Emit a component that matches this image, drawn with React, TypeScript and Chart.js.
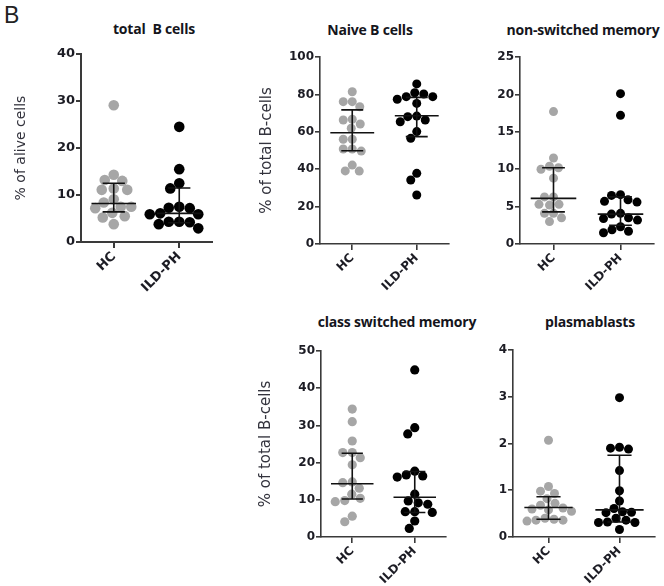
import React, { useEffect, useRef } from "react";
import { Chart, registerables } from "chart.js";

Chart.register(...registerables);

const categories = ["HC", "ILD-PH"];

// total B cells (% of alive cells)
const totalBHC = [29.1, 14.3, 13.2, 13.0, 11.4, 11.1, 11.1, 9.1, 8.4, 7.5, 7.5, 7.2, 6.2, 5.5, 5.2, 3.8];
const totalBILD = [24.5, 15.5, 12.5, 11.4, 7.5, 7.3, 7.2, 6.1, 5.9, 5.9, 4.3, 4.3, 4.2, 3.8, 2.9];
const totalBMedian = [8.2, 6.1];
const totalBQ1 = [6.4, 4.1];
const totalBQ3 = [12.5, 11.5];

// Naive B cells (% of total B-cells)
const naiveHC = [81.4, 76.1, 76.1, 73.4, 66.7, 66.3, 64.2, 61.9, 56.0, 56.0, 50.8, 50.8, 49.7, 42.2, 39.1, 39.0];
const naiveILD = [85.6, 80.9, 80.2, 78.8, 78.8, 77.4, 75.2, 68.4, 68.1, 66.3, 65.4, 60.1, 56.5, 37.8, 34.2, 26.2];
const naiveMedian = [59.5, 68.6];
const naiveQ1 = [49.9, 57.4];
const naiveQ3 = [71.7, 78.4];

// non-switched memory
const nsmHC = [17.7, 11.5, 10.4, 10.2, 10.0, 8.8, 6.3, 6.3, 5.3, 5.3, 5.2, 4.1, 4.1, 3.5, 3.0];
const nsmILD = [20.1, 17.2, 6.6, 6.5, 5.9, 5.7, 5.6, 4.1, 4.0, 3.5, 3.4, 3.2, 2.3, 1.9, 1.7, 1.5];
const nsmMedian = [6.1, 4.0];
const nsmQ1 = [4.3, 2.5];
const nsmQ3 = [10.2, 6.3];

// class switched memory (% of total B-cells)
const csmHC = [34.4, 31.0, 25.8, 22.7, 22.7, 21.3, 19.4, 14.8, 14.6, 13.1, 11.5, 10.4, 9.8, 9.5, 5.6, 4.1];
const csmILD = [44.9, 29.4, 27.7, 17.7, 16.7, 16.4, 16.1, 11.5, 9.7, 9.2, 8.8, 6.8, 6.8, 6.6, 4.3, 2.3];
const csmMedian = [14.3, 10.7];
const csmQ1 = [10.2, 6.6];
const csmQ3 = [22.5, 17.6];

// plasmablasts
const pbHC = [2.07, 1.08, 0.98, 0.93, 0.82, 0.72, 0.68, 0.62, 0.6, 0.58, 0.55, 0.4, 0.38, 0.36, 0.36, 0.34];
const pbILD = [2.98, 1.92, 1.9, 1.88, 1.42, 0.99, 0.77, 0.61, 0.54, 0.53, 0.52, 0.4, 0.36, 0.32, 0.31, 0.31, 0.16];
const pbMedian = [0.63, 0.58];
const pbQ1 = [0.38, 0.32];
const pbQ3 = [0.86, 1.75];

const yMax = [40, 100, 25, 50, 4];
const yStep = [10, 20, 5, 10, 1];

type Panel = {
  title: string;
  yTitle: string;
  groups: number[][];
  median: number[];
  q1: number[];
  q3: number[];
  yMax: number;
  yStep: number;
  plotL: number; plotR: number; plotT: number; plotB: number;
  canvasL: number; canvasT: number;
  xH: number;
  titleX: number; titleY: number;
  yTitleX: number;
  yTitleSize: number;
  tickSize: number;
  radius: number;
  gap: number;
  axisW: number;
};

const panels: Panel[] = [
  {
    title: "total  B cells", yTitle: "% of alive cells",
    groups: [totalBHC, totalBILD], median: totalBMedian, q1: totalBQ1, q3: totalBQ3,
    yMax: yMax[0], yStep: yStep[0],
    plotL: 81, plotR: 212, plotT: 54, plotB: 242, canvasL: 0, canvasT: 38, xH: 52,
    titleX: 154, titleY: 20, yTitleX: 21, yTitleSize: 14, tickSize: 13, radius: 5.3, gap: 10.2, axisW: 2,
  },
  {
    title: "Naive B cells", yTitle: "% of total B-cells",
    groups: [naiveHC, naiveILD], median: naiveMedian, q1: naiveQ1, q3: naiveQ3,
    yMax: yMax[1], yStep: yStep[1],
    plotL: 320, plotR: 449, plotT: 57, plotB: 244, canvasL: 238, canvasT: 44, xH: 50,
    titleX: 370, titleY: 21, yTitleX: 267, yTitleSize: 15, tickSize: 12, radius: 4.5, gap: 9, axisW: 1.6,
  },
  {
    title: "non-switched memory", yTitle: "",
    groups: [nsmHC, nsmILD], median: nsmMedian, q1: nsmQ1, q3: nsmQ3,
    yMax: yMax[2], yStep: yStep[2],
    plotL: 520, plotR: 654, plotT: 57, plotB: 244, canvasL: 468, canvasT: 44, xH: 50,
    titleX: 583, titleY: 21, yTitleX: 0, yTitleSize: 15, tickSize: 12, radius: 4.5, gap: 9, axisW: 1.6,
  },
  {
    title: "class switched memory", yTitle: "% of total B-cells",
    groups: [csmHC, csmILD], median: csmMedian, q1: csmQ1, q3: csmQ3,
    yMax: yMax[3], yStep: yStep[3],
    plotL: 321, plotR: 446, plotT: 351, plotB: 537, canvasL: 238, canvasT: 338, xH: 49,
    titleX: 397, titleY: 313, yTitleX: 266, yTitleSize: 15, tickSize: 12, radius: 4.6, gap: 9.2, axisW: 1.6,
  },
  {
    title: "plasmablasts", yTitle: "",
    groups: [pbHC, pbILD], median: pbMedian, q1: pbQ1, q3: pbQ3,
    yMax: yMax[4], yStep: yStep[4],
    plotL: 513, plotR: 655, plotT: 350, plotB: 537, canvasL: 468, canvasT: 338, xH: 49,
    titleX: 590, titleY: 313, yTitleX: 0, yTitleSize: 15, tickSize: 12, radius: 4.5, gap: 9, axisW: 1.6,
  },
];

const GROUP_COLORS = ["#a6a6a6", "#000000"];
const MEDIAN_HALF = 0.34;
const CAP_HALF = 0.17;
const AXIS_COLOR = "#3a3a3a";
const TEXT_COLOR = "#1c1c24";

function swarm(pys: number[], minDist: number): number[] {
  const order = pys.map((_, i) => i).sort((a, b) => pys[a] - pys[b]);
  const placed: { x: number; y: number }[] = [];
  const out = new Array(pys.length).fill(0);
  for (const i of order) {
    const y = pys[i];
    let chosen = 0;
    for (let k = 0; k < 400; k++) {
      const off = k === 0 ? 0 : (k % 2 ? -1 : 1) * Math.ceil(k / 2) * 0.5;
      if (placed.every((p) => Math.hypot(p.x - off, p.y - y) >= minDist)) {
        chosen = off;
        break;
      }
    }
    placed.push({ x: chosen, y });
    out[i] = chosen;
  }
  return out;
}

function PanelChart({ p }: { p: Panel }) {
  const ref = useRef<HTMLCanvasElement | null>(null);
  const padR = 6;
  const padB = 0;
  const yW = p.plotL - p.canvasL;
  const padT = p.plotT - p.canvasT;
  const W = p.plotR - p.canvasL + padR;
  const H = p.plotB - p.canvasT + p.xH + padB;

  useEffect(() => {
    const canvas = ref.current;
    if (!canvas) return;

    const statData: any[] = [];
    p.median.forEach((m, g) => {
      const c = g + 1;
      statData.push({ x: c - MEDIAN_HALF, y: m }, { x: c + MEDIAN_HALF, y: m }, { x: c, y: null });
      statData.push({ x: c - CAP_HALF, y: p.q3[g] }, { x: c + CAP_HALF, y: p.q3[g] }, { x: c, y: null });
      statData.push({ x: c - CAP_HALF, y: p.q1[g] }, { x: c + CAP_HALF, y: p.q1[g] }, { x: c, y: null });
      statData.push({ x: c, y: p.q1[g] }, { x: c, y: p.q3[g] }, { x: c, y: null });
    });

    const pointSets = p.groups.map((vals, g) => ({
      label: categories[g],
      data: vals.map((v) => ({ x: g + 1, y: v })),
      backgroundColor: GROUP_COLORS[g],
      borderColor: GROUP_COLORS[g],
      borderWidth: 0,
      pointRadius: p.radius,
      pointHoverRadius: p.radius,
      showLine: false,
      order: 1,
      clip: false as any,
    }));

    const fontFamily = "'DejaVu Sans', 'Liberation Sans', sans-serif";

    const chart = new Chart(canvas, {
      type: "scatter",
      data: {
        datasets: [
          {
            label: "stats",
            data: statData,
            showLine: true,
            spanGaps: false,
            pointRadius: 0,
            borderColor: "#111111",
            borderWidth: 1.6,
            order: 0,
            clip: false as any,
          } as any,
          ...pointSets,
        ],
      },
      options: {
        responsive: false,
        animation: false,
        devicePixelRatio: 1,
        events: [],
        layout: { padding: { left: 0, top: padT, right: padR, bottom: padB } },
        plugins: { legend: { display: false }, title: { display: false }, tooltip: { enabled: false } },
        scales: {
          x: {
            type: "linear",
            min: 0.5,
            max: 2.5,
            afterBuildTicks: (s: any) => {
              s.ticks = [{ value: 1 }, { value: 2 }];
            },
            afterFit: (s: any) => {
              s.height = p.xH;
              s.paddingLeft = 0;
              s.paddingRight = 0;
            },
            ticks: {
              autoSkip: false,
              minRotation: 45,
              maxRotation: 45,
              padding: 1,
              color: TEXT_COLOR,
              font: { family: fontFamily, size: p.tickSize, weight: "bold" },
              callback: (v: any) => categories[Math.round(Number(v)) - 1] ?? "",
            },
            grid: { drawOnChartArea: false, drawTicks: true, tickLength: 6, color: AXIS_COLOR, lineWidth: p.axisW },
            border: { display: true, color: AXIS_COLOR, width: p.axisW },
          },
          y: {
            type: "linear",
            min: 0,
            max: p.yMax,
            afterFit: (s: any) => {
              s.width = yW;
              s.paddingTop = 0;
              s.paddingBottom = 0;
            },
            ticks: {
              stepSize: p.yStep,
              padding: 1,
              color: TEXT_COLOR,
              font: { family: fontFamily, size: p.tickSize, weight: "bold" },
            },
            grid: { drawOnChartArea: false, drawTicks: true, tickLength: 5, color: AXIS_COLOR, lineWidth: p.axisW },
            border: { display: true, color: AXIS_COLOR, width: p.axisW },
            title: {
              display: p.yTitle !== "",
              text: p.yTitle,
              color: "#33333d",
              font: { family: "'DejaVu Sans', sans-serif", size: p.yTitleSize, weight: "normal" },
              padding: { top: Math.max(0, p.yTitleX - p.canvasL - (p.yTitleSize * 1.2) / 2), bottom: 0 },
            },
          },
        },
      },
    } as any);

    const xs: any = chart.scales.x;
    const ys: any = chart.scales.y;
    p.groups.forEach((vals, g) => {
      const cx = xs.getPixelForValue(g + 1);
      const pys = vals.map((v) => ys.getPixelForValue(v));
      const offs = swarm(pys, p.gap);
      (chart.data.datasets[g + 1] as any).data = vals.map((v, i) => ({
        x: xs.getValueForPixel(cx + offs[i]),
        y: v,
      }));
    });
    chart.update("none");

    return () => chart.destroy();
  }, [p]);

  return (
    <canvas
      ref={ref}
      width={W}
      height={H}
      style={{ position: "absolute", left: p.canvasL, top: p.canvasT, width: W, height: H }}
    />
  );
}

export default function App() {
  return (
    <div
      style={{
        position: "absolute",
        left: 0,
        top: 0,
        width: 664,
        height: 586,
        overflow: "hidden",
        background: "#ffffff",
      }}
    >
      <div
        style={{
          position: "absolute",
          left: 4,
          top: 1,
          fontFamily: "'Liberation Sans', Arial, sans-serif",
          fontSize: 23,
          color: "#222",
          lineHeight: "28px",
        }}
      >
        B
      </div>
      {panels.map((p, i) => (
        <div
          key={"t" + i}
          style={{
            position: "absolute",
            left: p.titleX - 110,
            top: p.titleY,
            width: 220,
            textAlign: "center",
            fontFamily: "'Open Sans', Lato, sans-serif",
            fontWeight: 700,
            fontSize: 14,
            letterSpacing: "-0.2px",
            color: "#15151c",
            lineHeight: "18px",
            whiteSpace: "pre",
          }}
        >
          {p.title}
        </div>
      ))}
      {panels.map((p, i) => (
        <PanelChart key={i} p={p} />
      ))}
    </div>
  );
}
